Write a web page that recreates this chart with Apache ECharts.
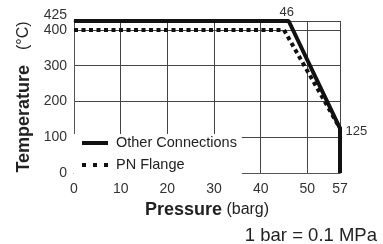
<!DOCTYPE html>
<html>
<head>
<meta charset="utf-8">
<title>Pressure / Temperature</title>
<script src="https://cdn.jsdelivr.net/npm/echarts@6/dist/echarts.min.js"></script>
<style>
  html, body { margin: 0; padding: 0; background: #fff; }
  #main { width: 383px; height: 244px; }
</style>
</head>
<body>
<div id="main"></div>
<script>
// pressure (barg) / temperature (°C) points
var otherPressure = [0, 46, 57, 57];
var otherTemp = [425, 425, 125, 0];
var flangePressure = [0, 45, 57, 57];
var flangeTemp = [400, 400, 125, 0];
var seriesNames = ['Other Connections', 'PN Flange'];

function pairs(xs, ys) {
    var out = [];
    for (var i = 0; i < xs.length; i++) out.push([xs[i], ys[i]]);
    return out;
}

var otherData = pairs(otherPressure, otherTemp);
otherData[1] = { value: otherData[1], label: { show: true, position: 'top', distance: 2, offset: [-2, 0], formatter: '46' } };
otherData[2] = { value: otherData[2], label: { show: true, position: 'right', distance: 5, offset: [0, 3], formatter: '125' } };

var font = 'Liberation Sans, Arial, sans-serif';
var solidIcon = 'path://M0,0H26V4H0Z';
var dashIcon = 'path://M0,0h4v4h-4z M11,0h4v4h-4z M22,0h4v4h-4z';

var chart = echarts.init(document.getElementById('main'));
chart.setOption({
    animation: false,
    textStyle: { fontFamily: font },
    grid: { left: 74, right: 43, top: 21, bottom: 71 },
    legend: {
        left: 74, top: 134,
        orient: 'vertical',
        backgroundColor: '#fff',
        padding: [0, 5, 1, 8],
        itemGap: 4,
        itemWidth: 26,
        itemHeight: 4,
        itemStyle: { borderWidth: 0 },
        textStyle: { fontSize: 14.5, color: '#222', fontFamily: font, padding: [0, 0, 0, 3], lineHeight: 18 },
        data: [
            { name: seriesNames[0], icon: solidIcon, itemStyle: { color: '#111', borderWidth: 0 } },
            { name: seriesNames[1], icon: dashIcon, itemStyle: { color: '#111', borderWidth: 0 } }
        ]
    },
    xAxis: {
        type: 'value', min: 0, max: 57, interval: 10,
        name: '{b|Pressure} (barg)',
        nameLocation: 'middle', nameGap: 24,
        nameTextStyle: { fontSize: 16, color: '#222', rich: { b: { fontSize: 18, fontWeight: 'bold', color: '#222' } } },
        axisLine: { lineStyle: { color: '#555', width: 1 } },
        axisTick: { show: false },
        axisLabel: { fontSize: 14, color: '#333', margin: 9, showMaxLabel: true, hideOverlap: false },
        splitLine: { show: true, lineStyle: { color: '#444', width: 1 } }
    },
    yAxis: {
        type: 'value', min: 0, max: 425, interval: 100,
        name: '{b|Temperature}  (°C)',
        nameLocation: 'middle', nameGap: 35,
        nameTextStyle: { fontSize: 16, color: '#222', rich: { b: { fontSize: 18, fontWeight: 'bold', color: '#222', padding: [0, 6, 0, 0] } } },
        axisLine: { show: true, lineStyle: { color: '#555', width: 1 } },
        axisTick: { show: false },
        axisLabel: {
            fontSize: 14, color: '#333', margin: 7, showMaxLabel: true, hideOverlap: false,
            formatter: function (v) { return v === 425 ? '{t|425}' : String(v); },
            rich: { t: { fontSize: 14, color: '#333', padding: [0, 0, 12, 0] } }
        },
        splitLine: { show: true, lineStyle: { color: '#444', width: 1 } }
    },
    graphic: [{
        type: 'text', right: 6, top: 226,
        style: { text: '1 bar = 0.1 MPa', fontSize: 18.5, fill: '#222', fontFamily: font }
    }],
    series: [{
        name: seriesNames[1],
        type: 'line',
        symbol: 'none',
        clip: false,
        z: 3,
        lineStyle: { color: '#111', width: 4, type: [4, 3.5] },
        data: pairs(flangePressure, flangeTemp)
    }, {
        name: seriesNames[0],
        type: 'line',
        symbol: 'circle',
        symbolSize: 1,
        showAllSymbol: true,
        clip: false,
        z: 4,
        itemStyle: { color: '#111' },
        lineStyle: { color: '#111', width: 4 },
        label: { fontSize: 13, color: '#333', fontFamily: font },
        data: otherData
    }]
});
</script>
</body>
</html>
